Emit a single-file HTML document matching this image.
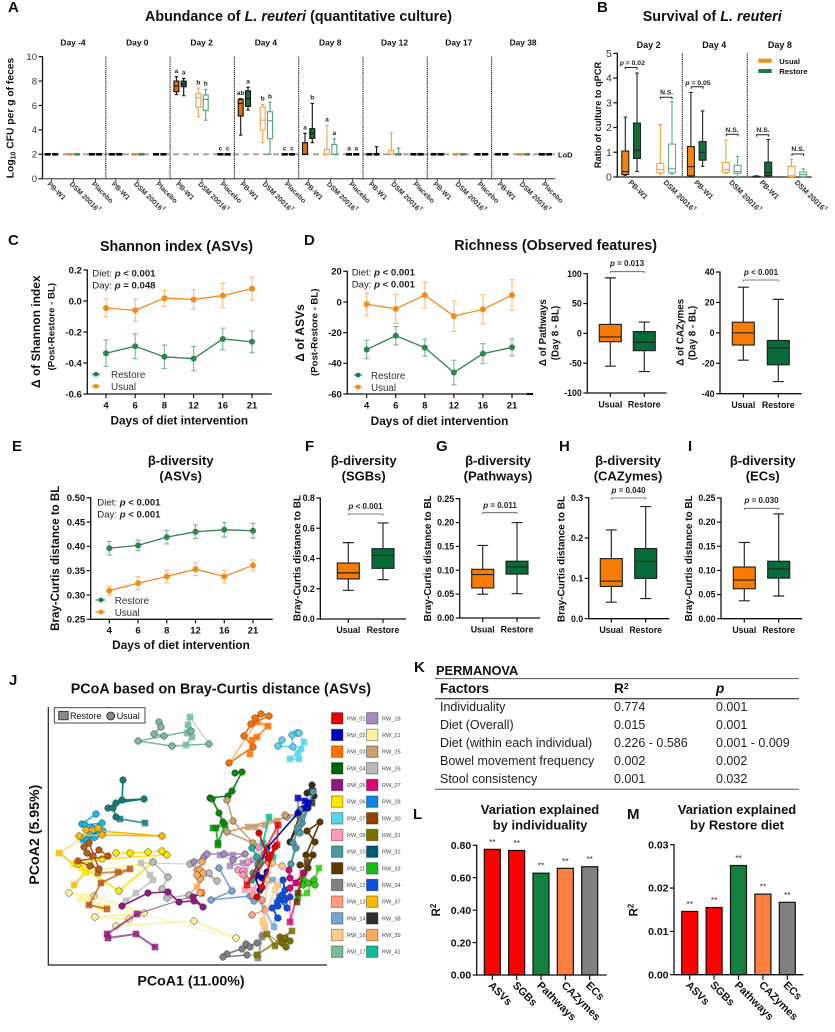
<!DOCTYPE html>
<html lang="en">
<head>
<meta charset="utf-8">
<title>L. reuteri abundance and diversity figure</title>
<style>
html,body{margin:0;padding:0;background:#fff;}
svg{display:block;font-family:"Liberation Sans",sans-serif;}
text{fill:#111;}
.letter{font-size:15px;font-weight:700;}
.title{font-size:14.3px;font-weight:700;}
.ttl2{font-size:13px;font-weight:700;text-anchor:middle;}
.axt{font-weight:700;text-anchor:middle;}
.inset{font-size:9.6px;fill:#222;}
.inset tspan.b{font-weight:700;}
.leg{font-size:9.8px;fill:#333;}
.pv{font-size:8px;font-weight:700;text-anchor:middle;fill:#222;}
.br{fill:none;stroke:#555;stroke-width:.8;}
.tb{font-size:12.5px;fill:#222;}
.tbh{font-size:13.6px;font-weight:700;}
</style>
</head>
<body>
<svg id="figure" xmlns="http://www.w3.org/2000/svg" width="835" height="1032" viewBox="0 0 835 1032">
<rect x="0" y="0" width="835" height="1032" fill="#fff"/>

<!-- Panel A -->
<g id="panelA">
<text class="letter" x="8" y="12">A</text>
<text class="title" x="145" y="21" textLength="307">Abundance of <tspan font-style="italic">L. reuteri</tspan> (quantitative culture)</text>
<text class="axt" font-size="10.3" transform="translate(13.5 118) rotate(-90)">Log<tspan font-size="7" dy="2">10</tspan><tspan dy="-2"> CFU per g of feces</tspan></text>
<text x="558" y="157.7" font-size="7.5" font-weight="700" fill="#333">LoD</text>
</g>

<!-- Panel B -->
<g id="panelB">
<text class="letter" x="597" y="12">B</text>
<text class="title" x="642.7" y="21" textLength="139">Survival of <tspan font-style="italic">L. reuteri</tspan></text>
<text class="axt" font-size="9.2" transform="translate(601 115) rotate(-90)">Ratio of culture to qPCR</text>
<rect x="758.3" y="58.7" width="13.4" height="4" fill="#f98a14"/>
<rect x="758.3" y="69" width="13.4" height="4" fill="#1f7a45"/>
<text x="779.3" y="64" font-size="7.6" font-weight="700" fill="#333">Usual</text>
<text x="779.3" y="74.2" font-size="7.6" font-weight="700" fill="#333">Restore</text>
<text class="pv" font-size="7" style="font-size:6.8px" x="632.3" y="65"><tspan font-style="italic">p</tspan> = 0.02</text>
<path class="br" style="stroke:#222;stroke-width:1" d="M625.3 69.5V67.5H637V69.5"/>
<text class="pv" style="font-size:6.8px" x="666.7" y="94.5">N.S.</text>
<path class="br" style="stroke:#222;stroke-width:1" d="M660.3 99.3V97.3H672V99.3"/>
<text class="pv" style="font-size:6.8px" x="698" y="85"><tspan font-style="italic">p</tspan> = 0.05</text>
<path class="br" style="stroke:#222;stroke-width:1" d="M691.3 88.7V86.7H703V88.7"/>
<text class="pv" style="font-size:6.8px" x="732" y="132">N.S.</text>
<path class="br" style="stroke:#222;stroke-width:1" d="M726.3 136.3V134.3H738V136.3"/>
<text class="pv" style="font-size:6.8px" x="763" y="132">N.S.</text>
<path class="br" style="stroke:#222;stroke-width:1" d="M756.7 136.7V134.7H768.7V136.7"/>
<text class="pv" style="font-size:6.8px" x="798" y="151">N.S.</text>
<path class="br" style="stroke:#222;stroke-width:1" d="M792 156V154H803.7V156"/>
</g>

<!-- Panel C -->
<g id="panelC">
<text class="letter" x="8" y="245">C</text>
<text class="title" x="100" y="251" textLength="153">Shannon index (ASVs)</text>
<text class="axt" font-size="12" transform="translate(40 331.7) rotate(-90)">Δ of Shannon index</text>
<text class="axt" font-size="9.6" transform="translate(54.3 326.7) rotate(-90)">(Post-Restore - BL)</text>
<text class="axt" font-size="11.8" x="179.3" y="424.3">Days of diet intervention</text>
<text class="inset" x="92.3" y="276.7">Diet: <tspan class="b" font-style="italic">p</tspan><tspan class="b"> &lt; 0.001</tspan></text>
<text class="inset" x="92.3" y="288.3">Day: <tspan class="b" font-style="italic">p</tspan><tspan class="b"> = 0.048</tspan></text>
<line x1="92" x2="100" y1="374.3" y2="374.3" stroke="#2f8550" stroke-width="1.3"/>
<circle cx="96" cy="374.3" r="2.4" fill="#1f7a45"/>
<text class="leg" x="111" y="378">Restore</text>
<line x1="92" x2="100" y1="386.3" y2="386.3" stroke="#f08c1e" stroke-width="1.3"/>
<circle cx="96" cy="386.3" r="2.4" fill="#f5891a"/>
<text class="leg" x="111" y="390">Usual</text>
</g>

<!-- Panel D -->
<g id="panelD">
<text class="letter" x="304" y="245">D</text>
<text class="title" x="454.3" y="250" textLength="202.7">Richness (Observed features)</text>
<text class="axt" font-size="12" transform="translate(304 333) rotate(-90)">Δ of ASVs</text>
<text class="axt" font-size="9.6" transform="translate(317.3 332.3) rotate(-90)">(Post-Restore - BL)</text>
<text class="axt" font-size="11.8" x="439.5" y="425">Days of diet intervention</text>
<text class="inset" x="351.7" y="275.7">Diet: <tspan class="b" font-style="italic">p</tspan><tspan class="b"> &lt; 0.001</tspan></text>
<text class="inset" x="351.7" y="287.3">Day: <tspan class="b" font-style="italic">p</tspan><tspan class="b"> &lt; 0.001</tspan></text>
<line x1="354" x2="362" y1="375" y2="375" stroke="#2f8550" stroke-width="1.3"/>
<circle cx="358" cy="375" r="2.4" fill="#1f7a45"/>
<text class="leg" x="371" y="379">Restore</text>
<line x1="354" x2="362" y1="387" y2="387" stroke="#f08c1e" stroke-width="1.3"/>
<circle cx="358" cy="387" r="2.4" fill="#f5891a"/>
<text class="leg" x="371" y="391">Usual</text>
<line x1="527" x2="533" y1="394" y2="394" stroke="#000" stroke-width="2"/>
</g>

<g id="panelD2">
<text class="axt" font-size="9.8" transform="translate(546 332.7) rotate(-90)">Δ of Pathways</text>
<text class="axt" font-size="9.8" transform="translate(558.3 333) rotate(-90)">(Day 8 - BL)</text>
<text class="pv" x="627" y="266"><tspan font-style="italic">p</tspan> = 0.013</text>
<path class="br" d="M610.3 273V271.7H644.3V273"/>
</g>

<g id="panelD3">
<text class="axt" font-size="9.8" transform="translate(683.3 332.3) rotate(-90)">Δ of CAZymes</text>
<text class="axt" font-size="9.8" transform="translate(695.7 333) rotate(-90)">(Day 8 - BL)</text>
<text class="pv" x="761" y="275"><tspan font-style="italic">p</tspan> &lt; 0.001</text>
<path class="br" d="M743.3 281.5V280H778.3V281.5"/>
</g>

<!-- Panel E -->
<g id="panelE">
<text class="letter" x="12" y="451">E</text>
<text class="ttl2" x="180.7" y="465">β-diversity</text>
<text class="ttl2" x="180.7" y="480.7">(ASVs)</text>
<text class="axt" font-size="11.5" transform="translate(59 558.3) rotate(-90)">Bray-Curtis distance to BL</text>
<text class="axt" font-size="11.8" x="181" y="649">Days of diet intervention</text>
<text class="inset" x="97.3" y="505.7">Diet: <tspan class="b" font-style="italic">p</tspan><tspan class="b"> &lt; 0.001</tspan></text>
<text class="inset" x="97.3" y="517.3">Day: <tspan class="b" font-style="italic">p</tspan><tspan class="b"> &lt; 0.001</tspan></text>
<line x1="95.5" x2="105" y1="600" y2="600" stroke="#2f8550" stroke-width="1.3"/>
<circle cx="101" cy="600" r="2.4" fill="#1f7a45"/>
<text class="leg" x="114.7" y="604">Restore</text>
<line x1="95.5" x2="105" y1="612" y2="612" stroke="#f08c1e" stroke-width="1.3"/>
<circle cx="101" cy="612" r="2.4" fill="#f5891a"/>
<text class="leg" x="114.7" y="616">Usual</text>
</g>

<!-- Panel F -->
<g id="panelF">
<text class="letter" x="305" y="451">F</text>
<text class="ttl2" x="363.7" y="465">β-diversity</text>
<text class="ttl2" x="363.7" y="480.7">(SGBs)</text>
<text class="axt" font-size="10" transform="translate(300.5 558) rotate(-90)">Bray-Curtis distance to BL</text>
<text class="pv" x="365.5" y="509"><tspan font-style="italic">p</tspan> &lt; 0.001</text>
<path class="br" d="M348.3 515.5V514H383V515.5"/>
</g>

<!-- Panel G -->
<g id="panelG">
<text class="letter" x="436" y="451">G</text>
<text class="ttl2" x="498" y="465">β-diversity</text>
<text class="ttl2" x="498" y="480.7">(Pathways)</text>
<text class="axt" font-size="10" transform="translate(431 558.3) rotate(-90)">Bray-Curtis distance to BL</text>
<text class="pv" x="500" y="508"><tspan font-style="italic">p</tspan> = 0.011</text>
<path class="br" d="M482.7 514.2V512.7H517V514.2"/>
</g>

<!-- Panel H -->
<g id="panelH">
<text class="letter" x="559" y="451">H</text>
<text class="ttl2" x="628" y="465">β-diversity</text>
<text class="ttl2" x="628" y="480.7">(CAZymes)</text>
<text class="axt" font-size="10" transform="translate(564.5 559) rotate(-90)">Bray-Curtis distance to BL</text>
<text class="pv" x="628.5" y="493"><tspan font-style="italic">p</tspan> = 0.040</text>
<path class="br" d="M611.3 499.5V498H645.7V499.5"/>
</g>

<!-- Panel I -->
<g id="panelI">
<text class="letter" x="688" y="451">I</text>
<text class="ttl2" x="762.7" y="465">β-diversity</text>
<text class="ttl2" x="762.7" y="480.7">(ECs)</text>
<text class="axt" font-size="10" transform="translate(692 558.3) rotate(-90)">Bray-Curtis distance to BL</text>
<text class="pv" x="761.5" y="503"><tspan font-style="italic">p</tspan> = 0.030</text>
<path class="br" d="M744.3 509.8V508.3H778.7V509.8"/>
</g>

<!-- Panel J -->
<g id="panelJ">
<text class="letter" x="9" y="685">J</text>
<text class="title" x="70.7" y="693.3" textLength="300.3">PCoA based on Bray-Curtis distance (ASVs)</text>
<text class="axt" font-size="14.2" transform="translate(39 834.7) rotate(-90)">PCoA2 (5.95%)</text>
<text class="axt" font-size="14.2" x="191" y="985.7">PCoA1 (11.00%)</text>
<line x1="48.3" x2="48.3" y1="707" y2="965" stroke="#222" stroke-width="1.2"/>
<line x1="47.7" x2="327" y1="965" y2="965" stroke="#222" stroke-width="1.2"/>
<g id="pcoaMarks"></g>
<g>
<rect x="54.3" y="707.7" width="90.7" height="15.3" fill="#fff" stroke="#333" stroke-width=".9"/>
<rect x="58.7" y="711.3" width="9.5" height="8.5" fill="#8a8a8a" stroke="#222" stroke-width=".8"/>
<text x="70" y="719" font-size="9" fill="#333">Restore</text>
<circle cx="110.7" cy="716" r="4" fill="#8a8a8a" stroke="#222" stroke-width=".8"/>
<text x="116.7" y="719" font-size="9" fill="#333">Usual</text>
</g>
</g>

<!-- Panel K -->
<g id="panelK">
<text class="letter" x="414" y="672">K</text>
<text x="436" y="675" font-size="12.8" font-weight="700">PERMANOVA</text>
<line x1="435" x2="799" y1="678.6" y2="678.6" stroke="#555" stroke-width="1"/>
<text class="tbh" x="440" y="693">Factors</text>
<text class="tbh" x="614" y="693">R<tspan font-size="8.5" dy="-4">2</tspan></text>
<text class="tbh" x="716" y="693" font-style="italic">p</text>
<line x1="435" x2="799" y1="698.7" y2="698.7" stroke="#111" stroke-width="1"/>
<text class="tb" x="440" y="711">Individuality</text>
<text class="tb" x="614" y="711">0.774</text>
<text class="tb" x="716" y="711">0.001</text>
<text class="tb" x="440" y="729">Diet (Overall)</text>
<text class="tb" x="614" y="729">0.015</text>
<text class="tb" x="716" y="729">0.001</text>
<text class="tb" x="440" y="747">Diet (within each individual)</text>
<text class="tb" x="614" y="747">0.226 - 0.586</text>
<text class="tb" x="716" y="747">0.001 - 0.009</text>
<text class="tb" x="440" y="765">Bowel movement frequency</text>
<text class="tb" x="614" y="765">0.002</text>
<text class="tb" x="716" y="765">0.002</text>
<text class="tb" x="440" y="783">Stool consistency</text>
<text class="tb" x="614" y="783">0.001</text>
<text class="tb" x="716" y="783">0.032</text>
<line x1="435" x2="799" y1="789.3" y2="789.3" stroke="#555" stroke-width="1"/>
</g>

<!-- Panel L -->
<g id="panelL">
<text class="letter" x="413" y="819">L</text>
<text class="ttl2" x="540" y="814">Variation explained</text>
<text class="ttl2" x="540" y="829.3">by individuality</text>
<text class="axt" font-size="11.5" transform="translate(440 910) rotate(-90)">R<tspan font-size="8" dy="-4">2</tspan></text>
</g>

<!-- Panel M -->
<g id="panelM">
<text class="letter" x="627" y="819">M</text>
<text class="ttl2" x="737" y="814">Variation explained</text>
<text class="ttl2" x="737" y="829.3">by Restore diet</text>
<text class="axt" font-size="11.5" transform="translate(637.5 910) rotate(-90)">R<tspan font-size="8" dy="-4">2</tspan></text>
</g>
</svg>

<script>
/* ---------- Panel A data: [min, q1, median, q3, max] ---------- */
const aDays = ['Day -4','Day 0','Day 2','Day 4','Day 8','Day 12','Day 17','Day 38'];
const aGroups = ['PB-W1','DSM 20016','Placebo'];
const aYTicks = ['0','2','4','6','8','10'];
const aDayNeg4Stats = [[2,2,2,2,2],[2,2,2,2,2],[2,2,2,2,2],[2,2,2,2,2],[2,2,2,2,2],[2,2,2,2,2]];
const aDay0Stats = [[2,2,2,2,2],[2,2,2,2,2],[2,2,2,2,2],[2,2,2,2,2],[2,2,2,2,2],[2,2,2,2,2]];
const aDay2Stats = [[6.9,7.13,7.6,8.0,8.36],[6.8,7.54,7.76,8.0,8.22],[5.08,5.85,6.64,6.97,7.43],[4.8,5.6,6.5,6.86,7.32],[2,2,2,2,2],[2,2,2,2,2]];
const aDay4Stats = [[3.58,5.14,6.17,6.5,6.56],[5.63,5.93,6.56,7.2,7.49],[2.95,3.99,4.8,5.87,6.09],[2,3.28,4.75,5.49,6.26],[2,2,2,2,2],[2,2,2,2,2]];
const aDay8Stats = [[2,2,2,2.95,3.72],[2.95,3.3,3.72,4.1,6.17],[2,2,2,2.4,4.37],[2,2,2,2.8,3.28],[2,2,2,2,2],[2,2,2,2,2]];
const aDay12Stats = [[2,2,2,2,2],[2,2,2,2,2.62],[2,2,2,2.3,3.77],[2,2,2,2,2.5],[2,2,2,2,2],[2,2,2,2,2]];
const aDay17Stats = [[2,2,2,2,2],[2,2,2,2,2],[2,2,2,2,2],[2,2,2,2,2],[2,2,2,2,2],[2,2,2,2,2]];
const aDay38Stats = [[2,2,2,2,2],[2,2,2,2,2],[2,2,2,2,2],[2,2,2,2,2],[2,2,2,2,2],[2,2,2,2,2]];
const aLodValue = 2;
const aDay2Letters = ['a','a','b','b','c','c'];
const aDay4Letters = ['ab','a','b','b','c','c'];
const aDay8Letters = ['a','b','a','a','a','a'];

/* ---------- Panel B data ---------- */
const bDays = ['Day 2','Day 4','Day 8'];
const bGroups = ['PB-W1','DSM 20016'];
const bYTicks = ['0','1','2','3','4','5'];
const bDay2Stats = [[0.07,0.1,0.22,1.05,2.42],[0.22,0.75,1.08,2.18,4.2],[0.12,0.17,0.3,0.55,2.12],[0.12,0.17,0.33,1.33,3.05]];
const bDay4Stats = [[0.02,0.05,0.42,1.23,3.42],[0.43,0.68,1.0,1.43,2.67],[0.15,0.2,0.3,0.58,1.5],[0.02,0.15,0.22,0.47,0.83]];
const bDay8Stats = [[0,0,0.01,0.03,0.05],[0,0.05,0.18,0.6,1.52],[0,0.02,0.05,0.43,0.72],[0,0.02,0.1,0.2,0.33]];

/* ---------- Line chart data ---------- */
const lineDays = ['4','6','8','12','16','21'];
const cYTicks = ['0.2','0.0','-0.2','-0.4','-0.6'];
const cUsualMean = [-0.045,-0.06,0.018,0.01,0.035,0.08];
const cUsualErr = [0.058,0.07,0.052,0.062,0.078,0.075];
const cRestoreMean = [-0.337,-0.292,-0.36,-0.372,-0.245,-0.263];
const cRestoreErr = [0.085,0.08,0.076,0.078,0.07,0.07];
const dYTicks = ['20','0','-20','-40','-60'];
const dUsualMean = [-1.5,-4.5,4.5,-9.2,-4.8,4.5];
const dUsualErr = [7.5,9.5,8.5,10,9.5,10];
const dRestoreMean = [-31,-22,-29.8,-46,-33.7,-29.6];
const dRestoreErr = [6,6,5.5,8,6.5,5.5];
const eYTicks = ['0.50','0.45','0.40','0.35','0.30','0.25'];
const eRestoreMean = [0.396,0.402,0.419,0.43,0.434,0.432];
const eRestoreErr = [0.014,0.011,0.014,0.014,0.015,0.015];
const eUsualMean = [0.309,0.324,0.338,0.353,0.338,0.361];
const eUsualErr = [0.009,0.013,0.013,0.013,0.013,0.011];

/* ---------- Two-box charts data: [min, q1, median, q3, max] ---------- */
const boxCategories = ['Usual','Restore'];
const d2YTicks = ['100','50','0','-50','-100'];
const d2Usual = [-55,-14,-6,15,93];
const d2Restore = [-64,-29,-15,3,19];
const d3YTicks = ['40','20','0','-20','-40'];
const d3Usual = [-18,-8,0,7,30];
const d3Restore = [-32,-21,-10,-5,22];
const fYTicks = ['0.8','0.6','0.4','0.2','0.0'];
const fUsual = [0.19,0.265,0.305,0.37,0.505];
const fRestore = [0.26,0.335,0.42,0.465,0.635];
const gYTicks = ['0.25','0.20','0.15','0.10','0.05','0.00'];
const gUsual = [0.05,0.063,0.091,0.102,0.152];
const gRestore = [0.051,0.092,0.107,0.119,0.2];
const hYTicks = ['0.3','0.2','0.1','0.0'];
const hUsual = [0.041,0.08,0.093,0.149,0.22];
const hRestore = [0.05,0.1,0.142,0.174,0.278];
const iYTicks = ['0.25','0.20','0.15','0.10','0.05','0.00'];
const iUsual = [0.037,0.062,0.08,0.107,0.158];
const iRestore = [0.047,0.084,0.103,0.119,0.217];

/* ---------- Bar chart data ---------- */
const barCategories = ['ASVs','SGBs','Pathways','CAZymes','ECs'];
const lYTicks = ['0.80','0.60','0.40','0.20','0.00'];
const lValues = [0.775,0.768,0.628,0.658,0.668];
const lSignificance = ['**','**','**','**','**'];
const mYTicks = ['0.03','0.02','0.01','0.00'];
const mValues = [0.0146,0.0155,0.0252,0.0186,0.0167];
const mSignificance = ['**','**','**','**','**'];

/* ---------- PCoA data: scores as [PCoA1, PCoA2] in arbitrary ordination units ---------- */
const pcoaColumn1 = ['RW_01','RW_02','RW_03','RW_04','RW_05','RW_06','RW_07','RW_08','RW_10','RW_11','RW_12','RW_13','RW_14','RW_16','RW_17'];
const pcoaColumn2 = ['RW_18','RW_21','RW_25','RW_26','RW_27','RW_28','RW_30','RW_31','RW_32','RW_33','RW_34','RW_37','RW_38','RW_39','RW_41'];
const rw17Usual = [[111,243],[113,238],[106,231],[116,229],[143,234],[90,224],[124,219],[161,221]];
const rw17Restore = [[142,248],[140,240],[139,232],[144,228],[138,220]];
const rw03Usual = [[207,247],[213,251],[221,249],[203,241],[196,229],[205,218],[181,202]];
const rw03Restore = [[209,243],[220,239],[209,228],[204,225],[202,211]];
const rw07Usual = [[234,225],[230,219],[245,218],[244,230],[249,232],[251,232]];
const rw07Restore = [[256,223],[253,216],[250,212],[242,206],[251,206]];
const rw32Usual = [[75,185],[74,165],[96,166],[68,162],[60,157],[65,157],[68,148]];
const rw32Restore = [[72,146],[97,142]];
const rw28Usual = [[48,151],[34,141],[37,140],[54,142],[44,137],[49,135],[55,134],[35,127],[39,125],[42,131],[47,128]];
const rw28Restore = [[50,135],[35,125],[44,127]];
const rw37Usual = [[31,129],[54,130],[114,129],[38,135],[50,137]];
const rw37Restore = [[11,112],[26,101],[38,93],[26,80]];
const rw06Usual = [[68,112],[82,112],[100,113],[114,114],[119,110],[54,106],[30,101],[71,74],[105,103]];
const rw06Restore = [[37,93],[26,101],[34,97]];
const rw30Usual = [[39,112],[45,109],[51,115],[60,109],[30,104],[42,99],[51,96],[41,122],[36,118]];
const rw30Restore = [[50,92],[70,93],[82,96],[53,82],[41,60],[59,56]];
const rw21Usual = [[21,72],[46,69],[96,52],[47,48],[81,46],[68,39],[146,44],[188,27]];
const rw21Restore = [[32,66],[52,57],[59,58],[39,68]];
const rw05Usual = [[74,59],[100,72],[120,73],[131,63],[146,64],[155,58],[145,68],[154,72]];
const rw05Restore = [[89,51],[59,31],[60,27],[88,31],[107,18]];
const rw26Usual = [[105,103],[120,88],[114,76],[119,67],[141,70],[161,92],[169,84],[142,101]];
const rw26Restore = [[93,102],[102,90],[105,85],[88,72],[78,64]];
const rw18Usual = [[146,103],[156,108],[159,111],[176,111],[197,111],[185,105]];
const rw18Restore = [[172,110],[185,110],[182,99],[195,102],[205,105]];
const rw39Usual = [[154,103],[149,95],[152,95],[155,92],[152,86],[149,90],[152,72]];
const rw39Restore = [[149,78],[154,73]];
const rw14Usual = [[171,97],[184,74],[163,65],[202,69],[206,64]];
const rw14Restore = [[225,85],[230,80],[226,38],[209,68]];
const rw12Usual = [[198,21],[202,18],[194,16],[209,22],[179,11],[175,8],[199,10]];
const rw12Restore = [[209,10],[210,7],[214,28],[215,30]];
const rw31Usual = [[232,28],[237,27],[242,24],[234,22],[238,18]];
const rw31Restore = [[219,31],[227,19],[244,34],[209,10]];
const rw13Usual = [[204,50],[217,55],[214,65],[205,70],[217,112],[221,102]];
const rw13Restore = [[215,43],[217,38]];
const rw04Usual = [[187,192],[194,193],[184,174],[180,169],[162,167],[164,166],[171,152],[175,143]];
const rw04Restore = [[165,137],[177,140],[170,122],[168,137],[170,120]];
const rw25Usual = [[179,165],[185,144],[205,122],[179,133],[239,148],[237,150],[252,150]];
const rw25Restore = [[200,138],[207,138],[217,140],[229,144]];
const rw38Usual = [[264,180],[259,172],[266,169],[254,156],[242,123],[260,157]];
const rw38Restore = [[265,174],[264,162]];
const rw10Usual = [[252,155],[250,150],[254,142],[252,132],[265,173],[245,122],[248,117],[243,101]];
const rw10Restore = [[249,137],[250,133]];
const rw02Usual = [[209,90],[214,87],[219,93],[212,75],[207,88],[219,117],[250,152]];
const rw02Restore = [[250,167],[257,164],[258,157],[260,162]];
const rw34Usual = [[230,47],[224,57],[230,59],[237,75],[235,85],[239,57],[231,65],[237,65],[234,70],[242,68]];
const rw34Restore = [[232,68],[229,62]];
const rw27Usual = [[241,95],[242,87],[248,82],[256,92],[242,77]];
const rw27Restore = [[242,43],[255,92],[257,82]];
const rw33Usual = [[255,86],[255,80],[260,82],[266,85],[267,80]];
const rw33Restore = [[271,97],[259,72],[250,68]];
const rw11Usual = [[252,100],[260,97],[265,110],[258,110],[272,143],[259,134],[267,123]];
const rw11Restore = [[259,103],[250,72],[249,63]];
const rw16Usual = [[234,99],[224,102],[219,85]];
const rw16Restore = [[229,80],[227,75],[215,45],[217,40]];
const rw08Usual = [[190,95],[195,94],[200,103],[199,85],[195,90],[211,118]];
const rw08Restore = [[205,75],[197,75]];
const rw41Usual = [[204,117],[209,108],[212,103],[205,92],[204,85],[210,100]];
const rw41Restore = [[221,148],[215,122],[225,108]];
const rw01Usual = [[211,132],[220,107],[227,118],[214,78],[209,68]];
const rw01Restore = [[229,120],[230,140],[199,80],[222,110]];

/* ---------- Style maps ---------- */
const pcoaColors = {RW_01:'#e60000',RW_02:'#0000c0',RW_03:'#ff7000',RW_04:'#006400',RW_05:'#8e1a80',RW_06:'#ffe600',RW_07:'#55d5f0',RW_08:'#ff99bb',RW_10:'#4a9aa5',RW_11:'#5c3a00',RW_12:'#808080',RW_13:'#ff9f80',RW_14:'#75a5d8',RW_16:'#ffcc88',RW_17:'#77bb99',RW_18:'#a78abf',RW_21:'#fff09a',RW_25:'#c9a070',RW_26:'#bbbbbb',RW_27:'#e0007a',RW_28:'#0a88e8',RW_30:'#994000',RW_31:'#7a7000',RW_32:'#005a70',RW_33:'#11c011',RW_34:'#0a50e0',RW_37:'#ffb800',RW_38:'#2d2d2d',RW_39:'#ffaa55',RW_41:'#11bb99'};
const pcoaMarkerColors = {RW_04:'#0a860a',RW_28:'#1cb5e8',RW_32:'#0e7c7c',RW_33:'#33cc11',RW_30:'#b85a10'};
const pcoaDrawOrder = [
 ['RW_17',rw17Usual,rw17Restore],['RW_03',rw03Usual,rw03Restore],['RW_07',rw07Usual,rw07Restore],
 ['RW_32',rw32Usual,rw32Restore],['RW_28',rw28Usual,rw28Restore],['RW_37',rw37Usual,rw37Restore],
 ['RW_21',rw21Usual,rw21Restore],['RW_06',rw06Usual,rw06Restore],['RW_30',rw30Usual,rw30Restore],
 ['RW_26',rw26Usual,rw26Restore],['RW_05',rw05Usual,rw05Restore],['RW_18',rw18Usual,rw18Restore],
 ['RW_39',rw39Usual,rw39Restore],['RW_14',rw14Usual,rw14Restore],['RW_12',rw12Usual,rw12Restore],
 ['RW_31',rw31Usual,rw31Restore],['RW_13',rw13Usual,rw13Restore],['RW_04',rw04Usual,rw04Restore],
 ['RW_25',rw25Usual,rw25Restore],['RW_38',rw38Usual,rw38Restore],['RW_10',rw10Usual,rw10Restore],
 ['RW_02',rw02Usual,rw02Restore],['RW_34',rw34Usual,rw34Restore],['RW_27',rw27Usual,rw27Restore],
 ['RW_33',rw33Usual,rw33Restore],['RW_11',rw11Usual,rw11Restore],['RW_16',rw16Usual,rw16Restore],
 ['RW_08',rw08Usual,rw08Restore],['RW_41',rw41Usual,rw41Restore],['RW_01',rw01Usual,rw01Restore]
];

/* ---------- Helpers ---------- */
const NS = 'http://www.w3.org/2000/svg';
function add(tag, parent, attrs) {
  const n = document.createElementNS(NS, tag);
  for (const k in attrs) n.setAttribute(k, attrs[k]);
  parent.appendChild(n);
  return n;
}
function tag(node, name) {
  
  
  return node;
}
function linear(d0, d1, r0, r1) {
  return v => r0 + (v - d0) * (r1 - r0) / (d1 - d0);
}
function slug(s) {
  return String(s).toLowerCase().replace(/[^a-z0-9]+/g, '-').replace(/^-|-$/g, '');
}
function write(parent, x, y, str, o) {
  const t = add('text', parent, {x: x, y: y, 'font-size': o.size, 'text-anchor': o.anchor || 'middle', 'font-weight': o.weight || 400});
  if (o.fill) t.style.fill = o.fill;
  if (o.rotate !== undefined) t.setAttribute('transform', 'rotate(' + o.rotate + ' ' + x + ' ' + y + ')');
  t.textContent = str;
  return t;
}
function frame(g, prefix, x0, x1, yTop, yBot, xColor) {
  const ya = add('line', g, {x1: x0, x2: x0, y1: yTop - 0.6, y2: yBot + 0.6, stroke: '#111', 'stroke-width': 1.3});
  tag(ya, prefix + '-y-axis');
  const xa = add('line', g, {x1: x0 - 0.6, x2: x1, y1: yBot, y2: yBot, stroke: xColor || '#111', 'stroke-width': 1.3});
  tag(xa, prefix + '-x-axis');
}
function yTicks(g, prefix, x0, labels, y, o) {
  labels.forEach(lb => {
    const v = parseFloat(lb);
    const tk = add('line', g, {x1: x0 - 4, x2: x0, y1: y(v), y2: y(v), stroke: '#111', 'stroke-width': 1.2});
    tag(tk, prefix + '-y-tick');
    const t = write(g, x0 - 5.5, y(v) + o.size * 0.35, lb, {size: o.size, weight: o.weight, anchor: 'end', fill: o.fill});
    tag(t, prefix + '-y-tick-label');
  });
}
function drawBox(g, prefix, cx, w, s, y, st) {
  const capHalf = st.cap;
  const yMin = y(s[0]), yQ1 = y(s[1]), yMed = y(s[2]), yQ3 = y(s[3]), yMax = y(s[4]);
  const wh = add('path', g, {d: 'M' + cx + ' ' + yMax + 'V' + yQ3 + 'M' + cx + ' ' + yQ1 + 'V' + yMin + 'M' + (cx - capHalf) + ' ' + yMax + 'H' + (cx + capHalf) + 'M' + (cx - capHalf) + ' ' + yMin + 'H' + (cx + capHalf), fill: 'none', stroke: st.stroke, 'stroke-width': st.sw});
  tag(wh, prefix + '-whisker');
  if (yQ1 - yQ3 < 0.4 && st.flat) {
    const f = add('line', g, {x1: cx - w / 2 - 0.5, x2: cx + w / 2 + 0.5, y1: yMed, y2: yMed, stroke: st.flat, 'stroke-width': 2.6});
    tag(f, prefix + '-flat-box');
    return;
  }
  const b = add('rect', g, {x: cx - w / 2, y: yQ3, width: w, height: Math.max(0.4, yQ1 - yQ3), fill: st.fill, stroke: st.stroke, 'stroke-width': st.sw});
  tag(b, prefix + '-box');
  const m = add('line', g, {x1: cx - w / 2, x2: cx + w / 2, y1: yMed, y2: yMed, stroke: st.stroke, 'stroke-width': st.sw});
  tag(m, prefix + '-median');
}

/* ---------- Panel A ---------- */
(function () {
  const g = document.getElementById('panelA');
  const y = linear(0, 10, 178.7, 56.7);
  const statsByDay = [aDayNeg4Stats, aDay0Stats, aDay2Stats, aDay4Stats, aDay8Stats, aDay12Stats, aDay17Stats, aDay38Stats];
  const lettersByDay = {2: aDay2Letters, 3: aDay4Letters, 4: aDay8Letters};
  const step = 64.3, origin = 41.5;
  frame(g, 'abundance', 42.5, 555, y(10), y(0), '#666');
  yTicks(g, 'abundance', 42.5, aYTicks, y, {size: 9.5, weight: 400, fill: '#333'});
  const lod = add('line', g, {x1: 43, x2: 555, y1: y(aLodValue), y2: y(aLodValue), stroke: '#a0a0a0', 'stroke-width': 1.8, 'stroke-dasharray': '6 4'});
  tag(lod, 'lod-line');
  aDays.forEach((day, i) => {
    const start = origin + step * i;
    const lab = write(g, start + 31.5, 45.7, day, {size: 8.4, weight: 700});
    tag(lab, 'abundance-' + slug(day) + '-header');
    if (i > 0) {
      const dv = add('line', g, {x1: start, x2: start, y1: y(10), y2: y(0), stroke: '#111', 'stroke-width': 1.1, 'stroke-dasharray': '1.1 0.8'});
      tag(dv, 'abundance-day-divider');
    }
    aGroups.forEach((grp, k) => {
      const tx = start + 5.5 + 22.2 * k;
      const tky = add('line', g, {x1: start + 10 + 22 * k, x2: start + 10 + 22 * k, y1: y(0), y2: y(0) + 3, stroke: '#444', 'stroke-width': 1});
      tag(tky, 'abundance-x-tick');
      const t = write(g, tx, 184.5, grp, {size: 7, weight: 700, anchor: 'start', rotate: 45, fill: '#333'});
      if (k === 1) {
        const sup = add('tspan', t, {dy: -3, 'font-size': 5});
        sup.textContent = 'T';
      }
      tag(t, 'abundance-x-label-' + slug(grp));
    });
    statsByDay[i].forEach((s, j) => {
      const cx = start + 6.3 + 22 * Math.floor(j / 2) + 7.3 * (j % 2);
      const kind = Math.floor(j / 2);
      const isRestore = j % 2 === 1;
      let st;
      if (kind === 0) st = {fill: isRestore ? '#1a6b3a' : '#d9700f', stroke: '#111', sw: 1.1, cap: 1.7, flat: '#000'};
      else if (kind === 1) st = {fill: '#fff', stroke: isRestore ? '#5aa072' : '#f5a040', sw: 1.1, cap: 1.7, flat: isRestore ? '#3f8f60' : '#f08a20'};
      else st = {fill: '#000', stroke: '#000', sw: 1.1, cap: 1.7, flat: '#000'};
      drawBox(g, 'abundance-' + slug(aDays[i]) + '-' + slug(aGroups[kind]), cx, 5, s, y, st);
      if (lettersByDay[i]) {
        const lt = write(g, cx, y(s[4]) - 3.7, lettersByDay[i][j], {size: 6.5, weight: 700, fill: '#222'});
        tag(lt, 'significance-letter');
      }
    });
  });
})();

/* ---------- Panel B ---------- */
(function () {
  const g = document.getElementById('panelB');
  const y = linear(0, 5, 177, 53.3);
  const statsByDay = [bDay2Stats, bDay4Stats, bDay8Stats];
  frame(g, 'survival', 617.3, 811.7, y(5), y(0), '#222');
  yTicks(g, 'survival', 617.3, bYTicks, y, {size: 10.5, weight: 400, fill: '#333'});
  bDays.forEach((day, d) => {
    const lab = write(g, 648.7 + 65.6 * d, 48, day, {size: 9, weight: 700});
    tag(lab, 'survival-' + slug(day) + '-header');
    if (d > 0) {
      const xd = 617.3 + 65 * d;
      const dv = add('line', g, {x1: xd, x2: xd, y1: y(5), y2: y(0), stroke: '#111', 'stroke-width': 1.1, 'stroke-dasharray': '1.1 0.8'});
      tag(dv, 'survival-day-divider');
    }
    bGroups.forEach((grp, k) => {
      const tx = 628 + 65.6 * d + 35 * k;
      const t = write(g, tx, 183, grp, {size: 7.4, weight: 700, anchor: 'start', rotate: 45, fill: '#333'});
      if (k === 1) {
        const sup = add('tspan', t, {dy: -3, 'font-size': 5});
        sup.textContent = 'T';
      }
      tag(t, 'survival-x-label-' + slug(grp));
    });
    statsByDay[d].forEach((s, j) => {
      const kind = Math.floor(j / 2);
      const isRestore = j % 2 === 1;
      const cx = 625.3 + 65.6 * d + 35 * kind + 11.7 * (j % 2);
      let st;
      if (kind === 0) st = {fill: isRestore ? '#146b3a' : '#f5820f', stroke: '#222', sw: 1.1, cap: 1.8, flat: '#111'};
      else st = {fill: '#fff', stroke: isRestore ? '#6aa884' : '#f5a040', sw: 1.1, cap: 1.8};
      drawBox(g, 'survival-' + slug(day) + '-' + slug(bGroups[kind]), cx, 7, s, y, st);
    });
  });
})();

/* ---------- Line charts ---------- */
function drawSeries(g, prefix, xAt, y, means, errs, color, lite) {
  const pts = means.map((m, i) => xAt(i) + ',' + y(m)).join(' ');
  const ln = add('polyline', g, {points: pts, fill: 'none', stroke: color, 'stroke-width': 1.3});
  tag(ln, prefix + '-line');
  means.forEach((m, i) => {
    const x = xAt(i), hi = y(m + errs[i]), lo = y(m - errs[i]);
    const eb = add('path', g, {d: 'M' + x + ' ' + hi + 'V' + lo + 'M' + (x - 2.6) + ' ' + hi + 'H' + (x + 2.6) + 'M' + (x - 2.6) + ' ' + lo + 'H' + (x + 2.6), fill: 'none', stroke: lite, 'stroke-width': 1.1});
    tag(eb, prefix + '-error-bar');
    const c = add('circle', g, {cx: x, cy: y(m), r: 3, fill: color});
    tag(c, prefix + '-point-day-' + lineDays[i]);
  });
}
function drawLineChart(id, prefix, x0, x1, yTop, yBot, domain, labels, firstX, stepX, series, labelY) {
  const g = document.getElementById(id);
  const y = linear(domain[0], domain[1], yBot, yTop);
  const xAt = i => firstX + stepX * i;
  frame(g, prefix, x0, x1, yTop, yBot);
  yTicks(g, prefix, x0, labels, y, {size: 9.5, weight: 700});
  lineDays.forEach((d, i) => {
    const tk = add('line', g, {x1: xAt(i), x2: xAt(i), y1: yBot, y2: yBot + 4, stroke: '#111', 'stroke-width': 1.2});
    tag(tk, prefix + '-x-tick');
    const t = write(g, xAt(i), labelY, d, {size: 9.5, weight: 700});
    tag(t, prefix + '-x-tick-label');
  });
  series.forEach(s => drawSeries(g, prefix + '-' + s[0], xAt, y, s[1], s[2], s[3], s[4]));
}
const usualLine = '#f08c1e', usualLite = '#f7bd7c', restoreLine = '#2f8550', restoreLite = '#7fb596';
drawLineChart('panelC', 'shannon', 87.3, 271.7, 270, 394, [-0.6, 0.2], cYTicks, 106, 29.2,
  [['restore', cRestoreMean, cRestoreErr, restoreLine, restoreLite], ['usual', cUsualMean, cUsualErr, usualLine, usualLite]], 408.3);
drawLineChart('panelD', 'richness', 347.3, 527, 271.3, 394, [-60, 20], dYTicks, 366.7, 29.06,
  [['restore', dRestoreMean, dRestoreErr, restoreLine, restoreLite], ['usual', dUsualMean, dUsualErr, usualLine, usualLite]], 408.3);
drawLineChart('panelE', 'beta-asv', 90.7, 272.7, 497.7, 619.3, [0.25, 0.5], eYTicks, 109.3, 28.74,
  [['restore', eRestoreMean, eRestoreErr, restoreLine, restoreLite], ['usual', eUsualMean, eUsualErr, usualLine, usualLite]], 633.3);

/* ---------- Two-box charts ---------- */
function drawBoxChart(id, prefix, x0, x1, yTop, yBot, domain, labels, firstOffset, gap, usual, restore, labelY) {
  const g = document.getElementById(id);
  const y = linear(domain[0], domain[1], yBot, yTop);
  frame(g, prefix, x0, x1, yTop, yBot);
  yTicks(g, prefix, x0, labels, y, {size: 8.8, weight: 700});
  [usual, restore].forEach((s, i) => {
    const cx = x0 + firstOffset + gap * i;
    const tk = add('line', g, {x1: cx, x2: cx, y1: yBot, y2: yBot + 4, stroke: '#111', 'stroke-width': 1.2});
    tag(tk, prefix + '-x-tick');
    const t = write(g, cx, labelY, boxCategories[i], {size: 8.8, weight: 700});
    tag(t, prefix + '-x-label-' + slug(boxCategories[i]));
    drawBox(g, prefix + '-' + slug(boxCategories[i]), cx, 22, s, y, {fill: i === 0 ? '#f97c00' : '#056b38', stroke: '#222', sw: 1.15, cap: 5.5});
  });
}
drawBoxChart('panelD2', 'pathways-delta', 587.3, 666.7, 273.7, 393, [-100, 100], d2YTicks, 23, 34, d2Usual, d2Restore, 407.7);
drawBoxChart('panelD3', 'cazymes-delta', 720, 801.7, 272, 393.7, [-40, 40], d3YTicks, 23.3, 35, d3Usual, d3Restore, 408);
drawBoxChart('panelF', 'beta-sgb', 320.3, 406, 498, 619, [0, 0.8], fYTicks, 28, 34.7, fUsual, fRestore, 633);
drawBoxChart('panelG', 'beta-pathways', 459.7, 540, 498.7, 618, [0, 0.25], gYTicks, 23, 34.3, gUsual, gRestore, 632.5);
drawBoxChart('panelH', 'beta-cazymes', 588.7, 669.3, 497.7, 618.7, [0, 0.3], hYTicks, 22.6, 34.4, hUsual, hRestore, 633);
drawBoxChart('panelI', 'beta-ecs', 721, 802, 498, 618.7, [0, 0.25], iYTicks, 23.3, 34.4, iUsual, iRestore, 633);

/* ---------- PCoA ---------- */
(function () {
  const g = document.getElementById('pcoaMarks');
  const x = linear(0, 280, 48, 328);
  const y = linear(0, 258, 965, 707);
  pcoaDrawOrder.forEach(entry => {
    const id = entry[0], usual = entry[1], restore = entry[2];
    const col = pcoaMarkerColors[id] || pcoaColors[id];
    const idSlug = slug(id);
    const sub = add('g', g, {});
    tag(sub, 'pcoa-group-' + idSlug);
    const linkPts = [usual[usual.length - 1], restore[0]].map(p => x(p[0]) + ',' + y(p[1])).join(' ');
    const link = add('polyline', sub, {points: linkPts, fill: 'none', stroke: col, 'stroke-width': 1.2, opacity: 0.6});
    tag(link, 'pcoa-link-' + idSlug);
    const rPts = restore.map(p => x(p[0]) + ',' + y(p[1])).join(' ');
    const rLine = add('polyline', sub, {points: rPts, fill: 'none', stroke: col, 'stroke-width': 2, opacity: 0.7});
    tag(rLine, 'pcoa-restore-line-' + idSlug);
    const uPts = usual.map(p => x(p[0]) + ',' + y(p[1])).join(' ');
    const uLine = add('polyline', sub, {points: uPts, fill: 'none', stroke: col, 'stroke-width': 1.6});
    tag(uLine, 'pcoa-usual-line-' + idSlug);
    restore.forEach(p => {
      const sq = add('rect', sub, {x: x(p[0]) - 3.3, y: y(p[1]) - 3.3, width: 6.6, height: 6.6, fill: col, opacity: 0.85});
      tag(sq, 'pcoa-restore-point-' + idSlug);
    });
    usual.forEach(p => {
      const c = add('circle', sub, {cx: x(p[0]), cy: y(p[1]), r: 3.3, fill: col, stroke: '#333', 'stroke-width': 0.5});
      tag(c, 'pcoa-usual-point-' + idSlug);
    });
  });
  const legendG = document.getElementById('panelJ');
  [pcoaColumn1, pcoaColumn2].forEach((ids, c) => {
    ids.forEach((id, r) => {
      const cy = 718.3 + 16.67 * r;
      const sx = 331.5 + 35 * c;
      const sw = add('rect', legendG, {x: sx, y: cy - 5.7, width: 11.4, height: 11.4, fill: pcoaColors[id], stroke: '#000', 'stroke-opacity': 0.35, 'stroke-width': 1});
      tag(sw, 'pcoa-legend-swatch-' + slug(id));
      const t = write(legendG, sx + 15.5, cy + 2, id, {size: 5.6, anchor: 'start', fill: '#444'});
      tag(t, 'pcoa-legend-label-' + slug(id));
    });
  });
})();

/* ---------- Bar charts ---------- */
const barFills = ['#ff0000','#ff0000','#138040','#ff7f3f','#808080'];
function drawBars(id, prefix, x0, x1, yTop, yBot, domain, labels, firstX, stepX, values, stars) {
  const g = document.getElementById(id);
  const y = linear(domain[0], domain[1], yBot, yTop);
  values.forEach((v, i) => {
    const cx = firstX + stepX * i;
    const b = add('rect', g, {x: cx - 8, y: y(v), width: 16, height: yBot - y(v), fill: barFills[i], stroke: '#111', 'stroke-width': 1.2});
    tag(b, prefix + '-bar-' + slug(barCategories[i]));
    const s = write(g, cx, y(v) - 4.5, stars[i], {size: 8.5, fill: '#333'});
    tag(s, prefix + '-significance-' + slug(barCategories[i]));
    const tk = add('line', g, {x1: cx, x2: cx, y1: yBot, y2: yBot + 5, stroke: '#111', 'stroke-width': 1.2});
    tag(tk, prefix + '-x-tick');
    const t = write(g, cx - 4.5, yBot + 11, barCategories[i], {size: 10.8, weight: 700, anchor: 'start', rotate: 45});
    tag(t, prefix + '-x-label-' + slug(barCategories[i]));
  });
  frame(g, prefix, x0, x1, yTop, yBot);
  yTicks(g, prefix, x0, labels, y, {size: 10.5, weight: 700});
}
drawBars('panelL', 'individuality', 476.7, 606.7, 845.3, 975, [0, 0.8], lYTicks, 492.3, 24.35, lValues, lSignificance);
drawBars('panelM', 'restore', 674, 803.3, 844.7, 974.7, [0, 0.03], mYTicks, 689.7, 24.4, mValues, mSignificance);
</script>
</body>
</html>
